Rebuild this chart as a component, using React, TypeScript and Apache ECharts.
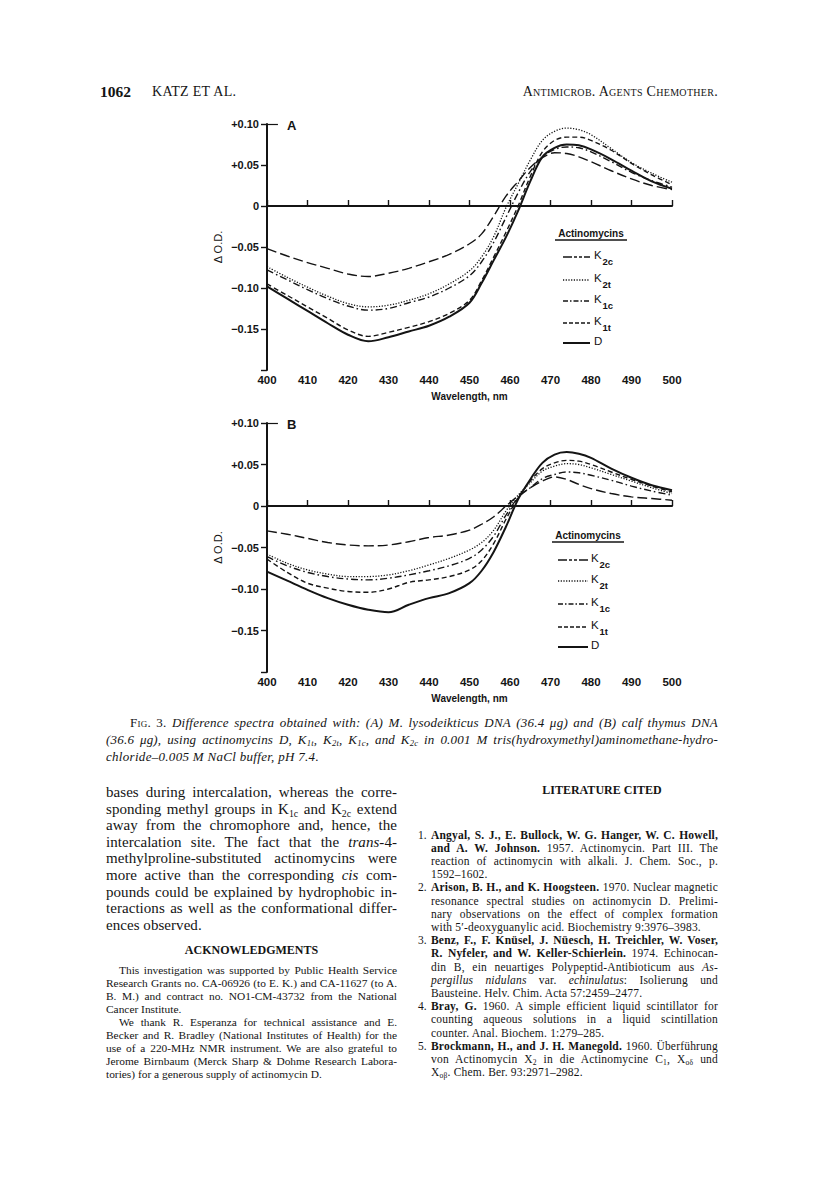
import React, { useEffect, useRef } from "react";
import * as echarts from "echarts";

// ---------------- chart data ----------------
const wavelengths = [400, 405, 410, 415, 420, 425, 430, 435, 440, 445, 450, 453, 456, 459, 462, 465, 468, 471, 474, 477, 480, 485, 490, 495, 500];

const seriesKeys = ["K2c", "K2t", "K1c", "K1t", "D"];

// Panel A (M. lysodeikticus DNA)
const A_K2c = [-0.052, -0.061, -0.069, -0.076, -0.083, -0.086, -0.082, -0.076, -0.068, -0.059, -0.046, -0.034, -0.012, 0.012, 0.030, 0.047, 0.059, 0.065, 0.064, 0.060, 0.054, 0.043, 0.033, 0.025, 0.020];
const A_K2t = [-0.074, -0.087, -0.099, -0.110, -0.119, -0.123, -0.121, -0.115, -0.107, -0.095, -0.079, -0.062, -0.037, -0.002, 0.027, 0.056, 0.080, 0.091, 0.095, 0.093, 0.087, 0.070, 0.053, 0.040, 0.029];
const A_K1c = [-0.078, -0.090, -0.102, -0.113, -0.122, -0.127, -0.125, -0.118, -0.111, -0.100, -0.085, -0.068, -0.044, -0.014, 0.016, 0.042, 0.060, 0.069, 0.072, 0.071, 0.066, 0.054, 0.041, 0.031, 0.023];
const A_K1t = [-0.095, -0.109, -0.123, -0.137, -0.151, -0.159, -0.154, -0.148, -0.141, -0.131, -0.115, -0.091, -0.062, -0.032, 0.000, 0.036, 0.066, 0.080, 0.084, 0.084, 0.080, 0.068, 0.052, 0.038, 0.026];
const A_D = [-0.098, -0.113, -0.128, -0.143, -0.157, -0.165, -0.160, -0.153, -0.146, -0.135, -0.118, -0.094, -0.066, -0.038, -0.006, 0.030, 0.060, 0.071, 0.075, 0.074, 0.069, 0.057, 0.043, 0.030, 0.021];

// Panel B (calf thymus DNA)
const B_K2c = [-0.030, -0.034, -0.039, -0.044, -0.047, -0.048, -0.047, -0.043, -0.038, -0.035, -0.029, -0.022, -0.013, 0.000, 0.012, 0.022, 0.030, 0.035, 0.032, 0.026, 0.021, 0.015, 0.011, 0.009, 0.007];
const B_K2t = [-0.058, -0.069, -0.077, -0.082, -0.085, -0.085, -0.083, -0.078, -0.071, -0.063, -0.053, -0.044, -0.029, -0.006, 0.013, 0.028, 0.042, 0.048, 0.051, 0.050, 0.046, 0.038, 0.030, 0.022, 0.015];
const B_K1c = [-0.061, -0.072, -0.080, -0.085, -0.088, -0.089, -0.087, -0.083, -0.078, -0.072, -0.063, -0.053, -0.036, -0.011, 0.010, 0.022, 0.033, 0.038, 0.041, 0.040, 0.037, 0.031, 0.024, 0.018, 0.013];
const B_K1t = [-0.064, -0.080, -0.093, -0.099, -0.103, -0.104, -0.100, -0.092, -0.089, -0.085, -0.077, -0.066, -0.045, -0.016, 0.010, 0.030, 0.045, 0.052, 0.055, 0.054, 0.050, 0.041, 0.032, 0.024, 0.017];
const B_D = [-0.079, -0.090, -0.101, -0.111, -0.119, -0.125, -0.128, -0.119, -0.111, -0.105, -0.093, -0.078, -0.055, -0.025, 0.008, 0.032, 0.052, 0.062, 0.065, 0.063, 0.058, 0.045, 0.034, 0.025, 0.019];

const yTickValues = [0.1, 0.05, 0, -0.05, -0.1, -0.15];
const yTickLabels = ["+0.10", "+0.05", "0", "\u22120.05", "\u22120.10", "\u22120.15"];

const legendTitle = "Actinomycins";
const legendLabels = [["K", "2c"], ["K", "2t"], ["K", "1c"], ["K", "1t"], ["D", ""]];

// ---------------- page text ----------------
const headerNumber = "1062";
const headerAuthors = "KATZ ET AL.";
const headerJournal = "Antimicrob. Agents Chemother.";

const captionLines = [
  "~Fig.~ ~3.~ Difference spectra obtained with: (A) M. lysodeikticus DNA (36.4 \u03bcg) and (B) calf thymus DNA",
  "(36.6 \u03bcg), using actinomycins D, K_{1t}, K_{2t}, K_{1c}, and K_{2c} in 0.001 M tris(hydroxymethyl)aminomethane-hydro-",
  "chloride\u20130.005 M NaCl buffer, pH 7.4.",
];

const bodyLines = [
  "bases during intercalation, whereas the corre-",
  "sponding methyl groups in K_{1c} and K_{2c} extend",
  "away from the chromophore and, hence, the",
  "intercalation site. The fact that the *trans*-4-",
  "methylproline-substituted actinomycins were",
  "more active than the corresponding *cis* com-",
  "pounds could be explained by hydrophobic in-",
  "teractions as well as the conformational differ-",
  "ences observed.",
];

const ackTitle = "ACKNOWLEDGMENTS";
const ackLines = [
  "This investigation was supported by Public Health Service",
  "Research Grants no. CA-06926 (to E. K.) and CA-11627 (to A.",
  "B. M.) and contract no. NO1-CM-43732 from the National",
  "Cancer Institute.",
  "We thank R. Esperanza for technical assistance and E.",
  "Becker and R. Bradley (National Institutes of Health) for the",
  "use of a 220-MHz NMR instrument. We are also grateful to",
  "Jerome Birnbaum (Merck Sharp & Dohme Research Labora-",
  "tories) for a generous supply of actinomycin D.",
];
const ackIndented = [0, 4];
const ackLastLines = [3, 8];

const litTitle = "LITERATURE CITED";
const references = [
  [
    "#Angyal, S. J., E. Bullock, W. G. Hanger, W. C. Howell,#",
    "#and A. W. Johnson.# 1957. Actinomycin. Part III. The",
    "reaction of actinomycin with alkali. J. Chem. Soc., p.",
    "1592\u20131602.",
  ],
  [
    "#Arison, B. H., and K. Hoogsteen.# 1970. Nuclear magnetic",
    "resonance spectral studies on actinomycin D. Prelimi-",
    "nary observations on the effect of complex formation",
    "with 5\u2032-deoxyguanylic acid. Biochemistry 9:3976\u20133983.",
  ],
  [
    "#Benz, F., F. Kn\u00fcsel, J. N\u00fcesch, H. Treichler, W. Voser,#",
    "#R. Nyfeler, and W. Keller-Schierlein.# 1974. Echinocan-",
    "din B, ein neuartiges Polypeptid-Antibioticum aus *As-*",
    "*pergillus nidulans* var. *echinulatus*: Isolierung und",
    "Bausteine. Helv. Chim. Acta 57:2459\u20132477.",
  ],
  [
    "#Bray, G.# 1960. A simple efficient liquid scintillator for",
    "counting aqueous solutions in a liquid scintillation",
    "counter. Anal. Biochem. 1:279\u2013285.",
  ],
  [
    "#Brockmann, H., and J. H. Manegold.# 1960. \u00dcberf\u00fchrung",
    "von Actinomycin X_{2} in die Actinomycine C_{1}, X_{o\u03b4} und",
    "X_{o\u03b2}. Chem. Ber. 93:2971\u20132982.",
  ],
];

// ---------------- helpers ----------------
const SERIF = "'Liberation Serif', 'DejaVu Serif', serif";
const SANS = "'Liberation Sans', Arial, sans-serif";
const INK = "#141414";

function Rich({ s }: { s: string }) {
  const parts = s.split(/(_\{[^}]*\}|\*[^*]+\*|#[^#]+#|~[^~]+~)/g).filter((p) => p !== "");
  return (
    <>
      {parts.map((p, i) => {
        if (p.startsWith("_{"))
          return (
            <sub key={i} style={{ fontSize: "0.66em", verticalAlign: "-0.28em", lineHeight: 0 }}>
              {p.slice(2, -1)}
            </sub>
          );
        if (p.length > 1 && p.startsWith("*") && p.endsWith("*")) return <i key={i}>{p.slice(1, -1)}</i>;
        if (p.length > 1 && p.startsWith("#") && p.endsWith("#")) return <b key={i}>{p.slice(1, -1)}</b>;
        if (p.length > 1 && p.startsWith("~") && p.endsWith("~"))
          return (
            <span key={i} style={{ fontVariant: "small-caps", fontStyle: "normal" }}>
              {p.slice(1, -1)}
            </span>
          );
        return <React.Fragment key={i}>{p}</React.Fragment>;
      })}
    </>
  );
}

function Line(props: {
  x: number;
  y: number;
  w?: number;
  size: number;
  ls?: number;
  align?: "left" | "justify" | "center" | "right";
  s: string;
  style?: React.CSSProperties;
}) {
  const { x, y, w, size, ls = 0, align = "left", s, style } = props;
  const lh = Math.round(size * 1.3);
  return (
    <div
      style={{
        position: "absolute",
        left: x,
        top: y - lh / 2,
        width: w,
        height: lh,
        lineHeight: lh + "px",
        fontSize: size,
        letterSpacing: ls,
        fontFamily: SERIF,
        color: INK,
        whiteSpace: "nowrap",
        textAlign: align,
        textAlignLast: align as any,
        ...style,
      }}
    >
      <Rich s={s} />
    </div>
  );
}

function buildSeries(values: number[][], gridIdx: number) {
  const styles: Record<string, any> = {
    K2c: { type: [10, 4], width: 1.4 },
    K2t: { type: [1.2, 1.6], width: 1.3 },
    K1c: { type: [7, 3, 1.6, 3], width: 1.4 },
    K1t: { type: [5, 3], width: 1.4 },
    D: { type: "solid", width: 2 },
  };
  return seriesKeys.map((k, i) => {
    const s: any = {
      name: k + (gridIdx === 0 ? "A" : "B"),
      type: "line",
      xAxisIndex: gridIdx,
      yAxisIndex: gridIdx,
      data: wavelengths.map((w, j) => [w, values[i][j]]),
      smooth: 0.35,
      showSymbol: false,
      symbol: "none",
      lineStyle: { color: INK, ...styles[k] },
      z: 3 + i,
    };
    if (k === "D") {
      s.markLine = {
        silent: true,
        symbol: ["none", "none"],
        label: { show: false },
        lineStyle: { type: "solid", color: INK, width: 1.2 },
        data: [
          { yAxis: 0 },
          [{ coord: [400, yTickValues[0]] }, { coord: [402.7, yTickValues[0]] }],
        ],
      };
    }
    return s;
  });
}

function legendGraphic(x0: number, titleY: number, rows: number[], sampleX: [number, number], labelX: number) {
  const dash: any[] = [[9, 2, 3, 2, 3, 2], [1.2, 1.5], [5, 2, 1.5, 2], [4, 2], null];
  const els: any[] = [
    {
      type: "text",
      x: x0,
      y: titleY,
      style: { text: legendTitle, font: `bold 10px ${SANS}`, fill: INK, textAlign: "center", textVerticalAlign: "middle" },
    },
    {
      type: "line",
      shape: { x1: x0 - 36, y1: titleY + 7, x2: x0 + 36, y2: titleY + 7 },
      style: { stroke: INK, lineWidth: 1.3 },
    },
  ];
  legendLabels.forEach((lab, i) => {
    const y = rows[i];
    els.push({
      type: "line",
      shape: { x1: sampleX[0], y1: y, x2: sampleX[1], y2: y },
      style: { stroke: INK, lineWidth: i === 4 ? 2 : 1.4, lineDash: dash[i] || undefined },
    });
    els.push({
      type: "text",
      x: labelX,
      y: y - 2,
      style: { text: lab[0], font: `11.5px ${SANS}`, fill: INK, textVerticalAlign: "middle" },
    });
    if (lab[1])
      els.push({
        type: "text",
        x: labelX + 8.5,
        y: y + 4,
        style: { text: lab[1], font: `bold 9.5px ${SANS}`, fill: INK, textVerticalAlign: "middle" },
      });
  });
  return els;
}

function yFmt(v: number) {
  const idx = yTickValues.findIndex((t) => Math.abs(t - v) < 1e-6);
  return idx >= 0 ? yTickLabels[idx] : "";
}

export default function App() {
  const ref = useRef<HTMLDivElement>(null);

  useEffect(() => {
    if (!ref.current) return;
    const chart = echarts.init(ref.current, undefined, { renderer: "svg" });
    const xAxis = (gi: number) => ({
      gridIndex: gi,
      type: "value",
      min: 400,
      max: 500,
      interval: 10,
      axisLine: { lineStyle: { color: INK, width: 2 } },
      axisTick: { inside: true, length: 6, lineStyle: { color: INK, width: 1.4 } },
      axisLabel: { color: INK, fontFamily: SANS, fontSize: 11.5, fontWeight: "bold", margin: 4 },
      splitLine: { show: false },
      name: "Wavelength, nm",
      nameLocation: "middle",
      nameGap: 21,
      nameTextStyle: { color: INK, fontFamily: SANS, fontSize: 10, fontWeight: "bold" },
    });
    const yAxis = (gi: number) => ({
      gridIndex: gi,
      type: "value",
      min: -0.2,
      max: 0.1,
      interval: 0.05,
      axisLine: { lineStyle: { color: INK, width: 2 } },
      axisTick: { inside: false, length: 6, lineStyle: { color: INK, width: 1.4 } },
      axisLabel: { color: INK, fontFamily: SANS, fontSize: 11, fontWeight: "bold", margin: 8, formatter: yFmt },
      splitLine: { show: false },
      name: "\u0394 O.D.",
      nameLocation: "middle",
      nameGap: 44,
      nameRotate: 90,
      nameTextStyle: { color: INK, fontFamily: SANS, fontSize: 11 },
    });

    chart.setOption({
      animation: false,
      backgroundColor: "transparent",
      grid: [
        { left: 267, top: 124, width: 405, height: 246 },
        { left: 267, top: 423, width: 405, height: 249 },
      ],
      xAxis: [xAxis(0), xAxis(1)],
      yAxis: [yAxis(0), yAxis(1)],
      series: [
        ...buildSeries([A_K2c, A_K2t, A_K1c, A_K1t, A_D], 0),
        ...buildSeries([B_K2c, B_K2t, B_K1c, B_K1t, B_D], 1),
      ],
      graphic: [
        { type: "text", x: 287, y: 125, style: { text: "A", font: `bold 13px ${SANS}`, fill: INK, textVerticalAlign: "middle" } },
        { type: "text", x: 287, y: 424, style: { text: "B", font: `bold 13px ${SANS}`, fill: INK, textVerticalAlign: "middle" } },
        ...legendGraphic(591, 233, [257, 280, 301, 323, 343], [563, 590], 594),
        ...legendGraphic(588, 535, [560, 581, 604, 627, 647], [558, 588], 591),
      ],
    });
    return () => chart.dispose();
  }, []);

  const bodyX = 106;
  const bodyW = 291;
  const refX = 418;
  const refW = 300;
  let refRow = 0;

  return (
    <div style={{ position: "absolute", left: 0, top: 0, width: 816, height: 1201, background: "#fff", overflow: "hidden" }}>
      {/* running header */}
      <Line x={100} y={92} size={15.5} s={headerNumber} style={{ fontWeight: "bold" }} />
      <Line x={152} y={92} size={14} ls={0.3} s={headerAuthors} />
      <Line x={418} y={92} w={300} size={14} ls={0.3} align="right" s={headerJournal} style={{ fontVariant: "small-caps" }} />

      <div ref={ref} style={{ position: "absolute", left: 0, top: 0, width: 816, height: 720 }} />

      {/* caption */}
      <Line x={130} y={722} w={588} size={13} ls={0.25} align="justify" s={captionLines[0]} style={{ fontStyle: "italic" }} />
      <Line x={106} y={739} w={612} size={13} ls={0.2} align="justify" s={captionLines[1]} style={{ fontStyle: "italic" }} />
      <Line x={106} y={756} size={13} ls={0.3} s={captionLines[2]} style={{ fontStyle: "italic" }} />

      {/* left column body */}
      {bodyLines.map((s, i) => (
        <Line key={"b" + i} x={bodyX} y={792 + i * 16.6} w={bodyW} size={15} ls={0.05} align={i === bodyLines.length - 1 ? "left" : "justify"} s={s} />
      ))}

      <Line x={bodyX} y={950} w={bodyW} size={12} align="center" s={ackTitle} style={{ fontWeight: "bold" }} />
      {ackLines.map((s, i) => {
        const ind = ackIndented.includes(i) ? 13 : 0;
        return (
          <Line
            key={"a" + i}
            x={bodyX + ind}
            y={970 + i * 13.1}
            w={bodyW - ind}
            size={11.4}
            ls={0}
            align={ackLastLines.includes(i) ? "left" : "justify"}
            s={s}
          />
        );
      })}

      {/* right column */}
      <Line x={refX + 36} y={790} w={refW - 4} size={12} align="center" s={litTitle} style={{ fontWeight: "bold" }} />
      {references.map((ref, r) =>
        ref.map((s, j) => {
          const y = 835 + refRow * 13.2;
          refRow++;
          const last = j === ref.length - 1;
          return (
            <React.Fragment key={"r" + r + "_" + j}>
              {j === 0 && <Line x={refX} y={y} size={11.5} s={`${r + 1}.`} />}
              <Line x={refX + 13} y={y} w={refW - 13} size={11.5} ls={0.2} align={last ? "left" : "justify"} s={s} />
            </React.Fragment>
          );
        })
      )}
    </div>
  );
}
